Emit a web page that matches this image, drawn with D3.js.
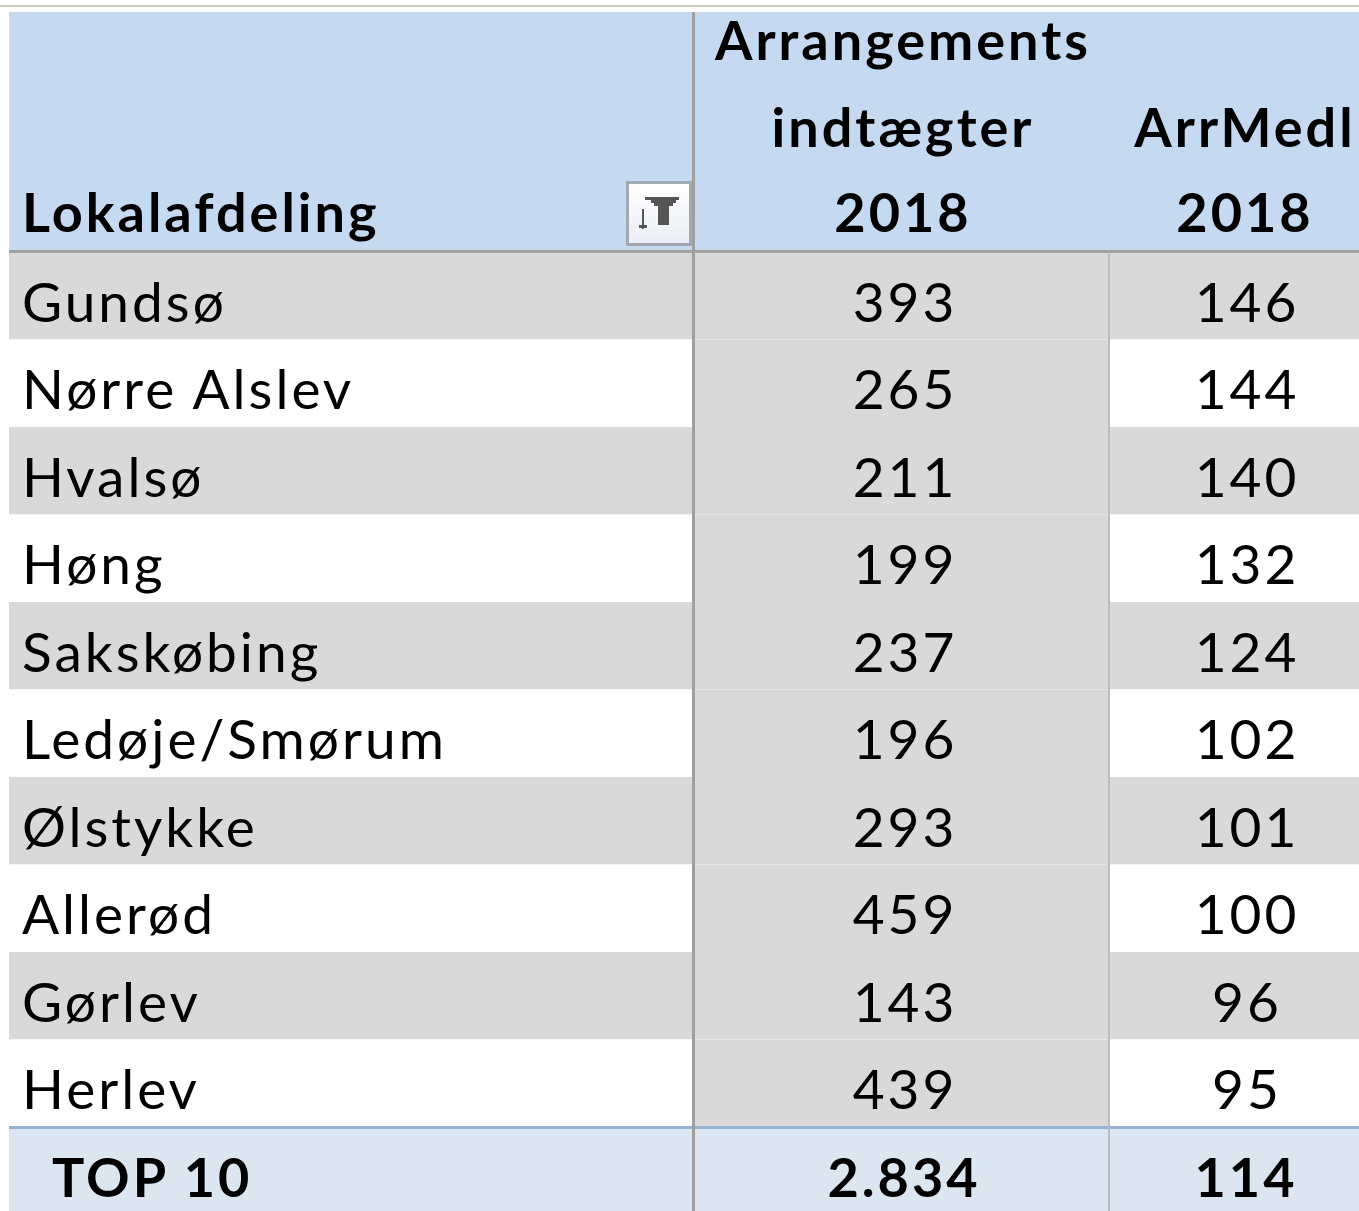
<!DOCTYPE html>
<html>
<head>
<meta charset="utf-8">
<script src="https://cdn.jsdelivr.net/npm/d3@7"></script>
<style>
  body { margin: 0; background: #fff; }
  svg { display: block; }
  text { font-family: Lato, "Open Sans", sans-serif; fill: #000; letter-spacing: 3px; }
</style>
</head>
<body>
<div class="data"></div>
<script>
// table data
const names = ["Gundsø", "Nørre Alslev", "Hvalsø", "Høng", "Sakskøbing", "Ledøje/Smørum", "Ølstykke", "Allerød", "Gørlev", "Herlev"]
const arrIndt = [393, 265, 211, 199, 237, 196, 293, 459, 143, 439]
const arrMedl = [146, 144, 140, 132, 124, 102, 101, 100, 96, 95]
const totalLabel = "TOP 10"
const totals = ["2.834", "114"]
const headers = [["Lokalafdeling"], ["Arrangements", "indtægter", "2018"], ["ArrMedl", "2018"]]

const width = 1359, height = 1211
const left = 9, headTop = 12, headBottom = 251, bodyBottom = 1127

// column boundaries (centers nudged for the trailing letter-spacing)
const colEdges = [left, 693, 1109, width]
const colCenter = [null, 903, 1245]

// row scale for the body
const y = d3.scaleBand()
    .domain(d3.range(names.length))
    .range([headBottom + 1, bodyBottom])

const rowH = y.bandwidth()

const svg = d3.select(".data").append("svg")
    .attr("width", width)
    .attr("height", height)

// thin line above the table
svg.append("rect")
    .attr("x", 0).attr("y", 5)
    .attr("width", width).attr("height", 2)
    .attr("fill", "#cdc9c1")

// header background
svg.append("rect")
    .attr("x", left).attr("y", headTop)
    .attr("width", width - left).attr("height", headBottom - headTop)
    .attr("fill", "#c5d9f1")

// body rows
const rows = svg.selectAll(".row")
    .data(names)
    .enter().append("g")
    .attr("class", "row")
    .attr("transform", (d, i) => "translate(0," + y(i) + ")")

// first and third column: banded
rows.append("rect")
    .attr("x", left)
    .attr("width", width - left)
    .attr("height", rowH)
    .attr("fill", (d, i) => i % 2 === 0 ? "#d9d9d9" : "#ffffff")

// second column always gray
rows.append("rect")
    .attr("x", colEdges[1])
    .attr("width", colEdges[2] - colEdges[1])
    .attr("height", rowH)
    .attr("fill", "#d9d9d9")

rows.append("text")
    .attr("x", 22)
    .attr("y", rowH / 2 + 26)
    .style("font-size", "55px")
    .text(d => d)

rows.append("text")
    .attr("x", colCenter[1] + 2)
    .attr("y", rowH / 2 + 26)
    .attr("text-anchor", "middle")
    .style("font-size", "55px")
    .text((d, i) => arrIndt[i])

rows.append("text")
    .attr("x", colCenter[2] + 2)
    .attr("y", rowH / 2 + 26)
    .attr("text-anchor", "middle")
    .style("font-size", "55px")
    .text((d, i) => arrMedl[i])

// total row
svg.append("rect")
    .attr("x", left).attr("y", bodyBottom)
    .attr("width", width - left).attr("height", height - bodyBottom)
    .attr("fill", "#dce6f1")

svg.append("rect")
    .attr("x", left).attr("y", bodyBottom - 1)
    .attr("width", width - left).attr("height", 3)
    .attr("fill", "#95b3d7")

svg.append("text")
    .attr("x", 52).attr("y", 1197)
    .style("font-size", "54px").style("font-weight", "bold")
    .text(totalLabel)

svg.selectAll(".total")
    .data(totals)
    .enter().append("text")
    .attr("class", "total")
    .attr("x", (d, i) => colCenter[i + 1] + 1)
    .attr("y", 1197)
    .attr("text-anchor", "middle")
    .style("font-size", "54px").style("font-weight", "bold")
    .text(d => d)

// header texts, baselines at 60 / 147 / 232 counted from the bottom line
const lineY = [232, 147, 60]
headers.forEach((lines, c) => {
    lines.slice().reverse().forEach((t, k) => {
        svg.append("text")
            .attr("x", c === 0 ? 22 : colCenter[c])
            .attr("y", lineY[k])
            .attr("text-anchor", c === 0 ? "start" : "middle")
            .style("font-size", "54px").style("font-weight", "bold")
            .text(t)
    })
})

// header bottom line
svg.append("rect")
    .attr("x", left).attr("y", headBottom - 1)
    .attr("width", width - left).attr("height", 3)
    .attr("fill", "#a0a0a0")

// vertical dividers
svg.append("rect")
    .attr("x", colEdges[1] - 1).attr("y", headTop)
    .attr("width", 3).attr("height", height - headTop)
    .attr("fill", "#a0a0a0")

svg.append("rect")
    .attr("x", colEdges[2] - 1).attr("y", headBottom + 1)
    .attr("width", 2).attr("height", height - headBottom)
    .attr("fill", "#bdbdbd")

// filter button
const grad = svg.append("defs").append("linearGradient")
    .attr("id", "btn").attr("x1", 0).attr("y1", 0).attr("x2", 0).attr("y2", 1)
grad.append("stop").attr("offset", "0%").attr("stop-color", "#ffffff")
grad.append("stop").attr("offset", "100%").attr("stop-color", "#eaeef4")

const btn = svg.append("g").attr("transform", "translate(626,181)")
btn.append("rect")
    .attr("x", 1.5).attr("y", 1.5)
    .attr("width", 63).attr("height", 62)
    .attr("fill", "url(#btn)")
    .attr("stroke", "#a3a9b1").attr("stroke-width", 3)
btn.append("path")
    .attr("d", "M19,16 H53 V19 H50 V22 H47 V25 H43 V44 H32 V25 H28 V22 H25 V19 H19 Z")
    .attr("fill", "#555")
btn.append("rect")
    .attr("x", 16).attr("y", 28).attr("width", 2).attr("height", 20)
    .attr("fill", "#555")
btn.append("rect")
    .attr("x", 13).attr("y", 44).attr("width", 8).attr("height", 3)
    .attr("fill", "#555")
</script>
</body>
</html>
